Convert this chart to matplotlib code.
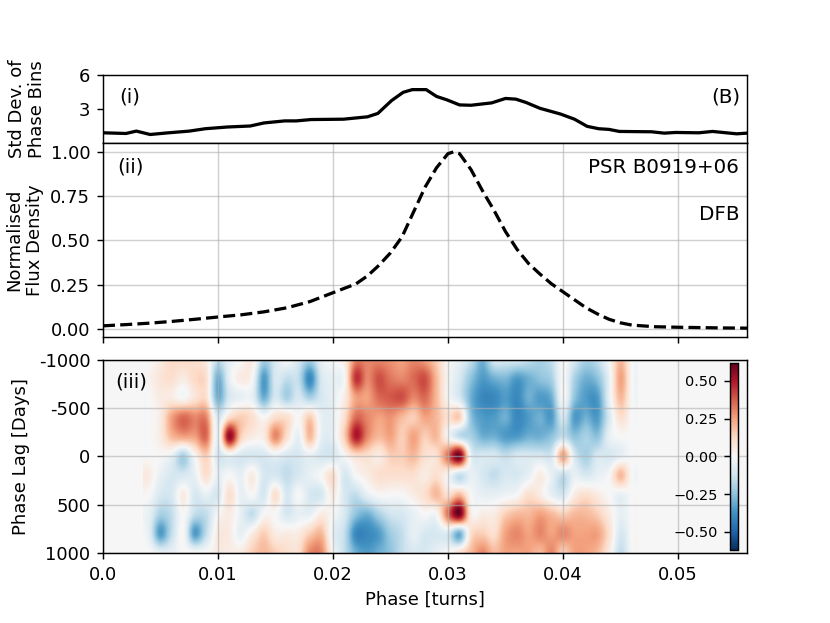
import numpy as np
import matplotlib
matplotlib.use("Agg")
import matplotlib.pyplot as plt
from matplotlib.colors import Normalize

# ---------------- data ----------------
# (i) standard deviation of phase bins
std_phase = [0.0, 0.002, 0.0029, 0.0041, 0.0057, 0.0075, 0.0089, 0.0108, 0.0128,
             0.014, 0.0158, 0.0168, 0.0181, 0.0209, 0.0218, 0.023, 0.0239, 0.0251,
             0.0261, 0.0269, 0.0281, 0.029, 0.0299, 0.031, 0.032, 0.0338, 0.035,
             0.0359, 0.0368, 0.038, 0.0398, 0.041, 0.0421, 0.0431, 0.044, 0.0449,
             0.0477, 0.0488, 0.0498, 0.0518, 0.053, 0.0551, 0.056]
std_values = [0.9, 0.84, 1.05, 0.75, 0.9, 1.05, 1.26, 1.41, 1.5,
              1.77, 1.95, 1.95, 2.07, 2.1, 2.19, 2.31, 2.61, 3.75,
              4.47, 4.71, 4.71, 4.11, 3.81, 3.36, 3.33, 3.54, 3.93,
              3.87, 3.57, 3.06, 2.55, 2.1, 1.47, 1.26, 1.2, 1.02,
              0.99, 0.87, 0.93, 0.9, 1.02, 0.81, 0.87]

# (ii) normalised flux density profile
prof_phase = [0.0, 0.002, 0.004, 0.006, 0.008, 0.010, 0.012, 0.014, 0.016, 0.018,
              0.020, 0.021, 0.022, 0.023, 0.024, 0.025, 0.026, 0.027, 0.028, 0.029,
              0.030, 0.0305, 0.031, 0.032, 0.033, 0.034, 0.035, 0.036, 0.037, 0.038,
              0.039, 0.040, 0.041, 0.042, 0.043, 0.044, 0.045, 0.046, 0.048, 0.050,
              0.052, 0.054, 0.056]
prof_values = [0.018, 0.025, 0.033, 0.043, 0.055, 0.068, 0.08, 0.097, 0.12, 0.155,
               0.205, 0.23, 0.255, 0.30, 0.36, 0.43, 0.52, 0.66, 0.80, 0.91,
               0.99, 1.0, 0.99, 0.90, 0.78, 0.67, 0.55, 0.45, 0.37, 0.31,
               0.255, 0.21, 0.165, 0.12, 0.085, 0.055, 0.035, 0.022, 0.013, 0.01,
               0.008, 0.006, 0.005]

# (iii) correlation vs phase lag
heat_phase = [round(0.004 + 0.001 * i, 3) for i in range(43)]
heat_lags = [-1000, -800, -600, -400, -200, 0, 200, 400, 600, 800, 1000]
row_m1000 = [0, .05, .12, .12, .1, .05, -.15, -.05, 0, .05, -.2,
             -.1, 0, -.1, -.2, -.05, 0, .05, .3, .3, .3,
             .28, .25, .3, .25, .15, 0, -.05, -.15, -.3, -.1,
             -.1, -.1, -.15, -.2, -.15, 0, -.1, -.2, -.15, 0, .2, 0]
row_m800 = [.02, .08, .1, .05, .12, .1, -.3, -.05, .05, 0, -.35,
            -.1, -.15, -.15, -.4, -.1, -.05, 0, .45, .3, .4,
            .33, .3, .35, .4, .2, 0, -.1, -.25, -.35, -.3,
            -.28, -.35, -.3, -.25, -.2, 0, -.2, -.3, -.25, -.05, .25, 0]
row_m600 = [0, .05, .05, 0, .08, .1, -.3, -.1, -.05, -.05, -.3,
            -.1, -.2, -.1, -.2, -.1, -.05, .05, .25, .25, .35,
            .38, .4, .3, .35, .2, 0, -.1, -.3, -.4, -.4,
            -.35, -.4, -.3, -.35, -.3, 0, -.25, -.35, -.35, -.05, .2, 0]
row_m400 = [0, .05, .25, .35, .3, .3, -.1, .1, .15, .1, 0,
            .1, .1, 0, .15, -.05, -.05, .1, .35, .3, .25,
            .28, .2, .15, .25, .2, .1, .15, -.25, -.35, -.35,
            -.3, -.4, -.35, -.3, -.35, -.1, -.35, -.3, -.35, -.1, .1, 0]
row_m200 = [0, .05, .2, .25, .25, .35, -.05, .55, .15, .05, .05,
            .3, .1, -.05, .2, -.05, -.05, .15, .5, .3, .2,
            .25, .15, .25, .15, .2, 0, -.15, -.2, -.3, -.3,
            -.35, -.35, -.3, -.3, -.25, -.15, -.25, -.2, -.25, -.05, 0, 0]
row_0 = [0, 0, -.05, -.2, 0, .15, -.1, -.05, -.1, -.1, -.1,
         -.05, -.1, -.1, -.05, -.1, -.1, 0, .1, .1, .05,
         .15, .15, .2, .1, .1, .35, .6, -.05, -.1, -.1,
         -.15, -.1, -.1, -.1, -.1, .25, -.1, -.2, -.1, -.1, -.05, 0]
row_200 = [.05, -.05, -.1, -.1, -.05, .1, -.05, 0, -.05, .05, -.1,
           -.1, -.15, -.1, -.05, 0, .1, -.1, 0, .05, .1,
           .1, .1, .1, .05, .1, 0, -.15, -.05, -.1, -.15,
           -.1, -.1, -.05, .05, -.05, -.15, -.05, -.1, -.05, 0, .2, 0]
row_400 = [0, -.1, -.1, .05, -.1, -.05, -.1, .1, -.05, 0, -.1,
           .1, -.1, 0, -.1, -.1, .05, -.1, -.15, -.05, 0,
           0, 0, .05, .1, .2, .1, .2, 0, -.05, -.05,
           -.03, 0, .1, .05, -.05, -.1, .05, .1, .05, 0, -.05, 0]
row_600 = [-.05, -.2, -.15, 0, -.15, -.15, 0, .05, -.05, -.15, 0,
           0, -.1, -.05, -.05, .05, 0, -.1, -.25, -.3, -.2,
           -.12, -.1, -.05, 0, 0, .35, .6, .05, .05, .05,
           .15, .2, .2, .25, .2, .15, .2, .2, .15, .05, -.05, 0]
row_800 = [-.05, -.35, -.15, 0, -.35, -.15, .05, .05, -.05, .05, .15,
           .05, .05, .05, .15, .2, -.05, -.15, -.4, -.4, -.35,
           -.22, -.15, -.05, -.1, -.1, -.1, -.3, .1, .15, .1,
           .25, .3, .25, .3, .25, .3, .25, .25, .25, .1, -.1, 0]
row_1000 = [0, -.05, -.05, 0, 0, 0, .05, .05, .05, .15, .2,
            .15, .1, .1, .3, .3, 0, -.15, -.3, -.35, -.3,
            -.25, -.15, -.1, -.1, -.05, 0, .1, .2, .3, .2,
            .25, .25, .25, .2, .3, .15, .25, .25, .2, .05, -.15, 0]
heat_rows = [row_m1000, row_m800, row_m600, row_m400, row_m200, row_0,
             row_200, row_400, row_600, row_800, row_1000]

lag_ticks = [-1000, -500, 0, 500, 1000]
lag_ticklabels = ["-1000", "-500", "0", "500", "1000"]
cbar_ticks = [-0.5, -0.25, 0.0, 0.25, 0.5]

# ---------------- figure ----------------
fig = plt.figure(figsize=(830 / 130, 623 / 130), dpi=130)
L, W = 103 / 830, 644 / 830
ax1 = fig.add_axes([L, 1 - 143 / 623, W, 68 / 623])
ax2 = fig.add_axes([L, 1 - 337 / 623, W, 194 / 623])
ax3 = fig.add_axes([L, 1 - 553 / 623, W, 193 / 623])

xlim = (0.0, 0.056)
xt = [0.0, 0.01, 0.02, 0.03, 0.04, 0.05]

# (i)
ax1.plot(std_phase, std_values, color="black", lw=1.8)
ax1.set_xlim(*xlim)
ax1.set_ylim(0, 6)
ax1.set_yticks([3, 6])
ax1.set_xticks(xt)
ax1.tick_params(axis="x", bottom=False, labelbottom=False)
ax1.set_ylabel("Std Dev. of\nPhase Bins")
ax1.yaxis.set_label_coords(-0.088, 0.5)
ax1.text(0.026, 0.68, "(i)", transform=ax1.transAxes, ha="left", va="center", fontsize=11)
ax1.text(0.99, 0.68, "(B)", transform=ax1.transAxes, ha="right", va="center", fontsize=11)

# (ii)
ax2.plot(prof_phase, prof_values, color="black", lw=1.8, ls="--")
ax2.set_xlim(*xlim)
ax2.set_ylim(-0.045, 1.05)
ax2.set_yticks([0.0, 0.25, 0.5, 0.75, 1.0])
ax2.set_xticks(xt)
ax2.tick_params(axis="x", labelbottom=False)
ax2.grid(True, color="#b0b0b0", alpha=0.6, lw=0.8)
ax2.set_ylabel("Normalised\nFlux Density")
ax2.yaxis.set_label_coords(-0.091, 0.5)
ax2.text(0.022, 0.876, "(ii)", transform=ax2.transAxes, ha="left", va="center", fontsize=11)
ax2.text(0.988, 0.876, "PSR B0919+06", transform=ax2.transAxes, ha="right", va="center", fontsize=11)
ax2.text(0.988, 0.63, "DFB", transform=ax2.transAxes, ha="right", va="center", fontsize=11)

# (iii)
cmap = plt.get_cmap("RdBu_r")
norm = Normalize(vmin=-0.62, vmax=0.62)
ax3.set_facecolor(cmap(norm(0.0)))
data = np.array(heat_rows)
dx = heat_phase[1] - heat_phase[0]
dy = heat_lags[1] - heat_lags[0]
im = ax3.imshow(data, cmap=cmap, norm=norm, aspect="auto", origin="upper",
                interpolation="catrom", interpolation_stage="data",
                extent=[heat_phase[0] - dx / 2, heat_phase[-1] + dx / 2,
                        heat_lags[-1] + dy / 2, heat_lags[0] - dy / 2])
ax3.set_xlim(*xlim)
ax3.set_ylim(1000, -1000)
ax3.set_yticks(lag_ticks)
ax3.set_yticklabels(lag_ticklabels)
ax3.set_xticks(xt)
ax3.set_xticklabels(["0.0", "0.01", "0.02", "0.03", "0.04", "0.05"])
ax3.grid(True, color="#b0b0b0", alpha=0.6, lw=0.8)
ax3.set_xlabel("Phase [turns]")
ax3.set_ylabel("Phase Lag [Days]")
ax3.yaxis.set_label_coords(-0.113, 0.5)
ax3.text(0.019, 0.886, "(iii)", transform=ax3.transAxes, ha="left", va="center", fontsize=11)

cax = ax3.inset_axes([0.974, 0.016, 0.0124, 0.97])
cb = fig.colorbar(im, cax=cax, ticks=cbar_ticks)
cax.yaxis.set_ticks_position("left")
cax.yaxis.set_label_position("left")
cax.tick_params(labelsize=8)

fig.savefig("out.png", dpi=130)
